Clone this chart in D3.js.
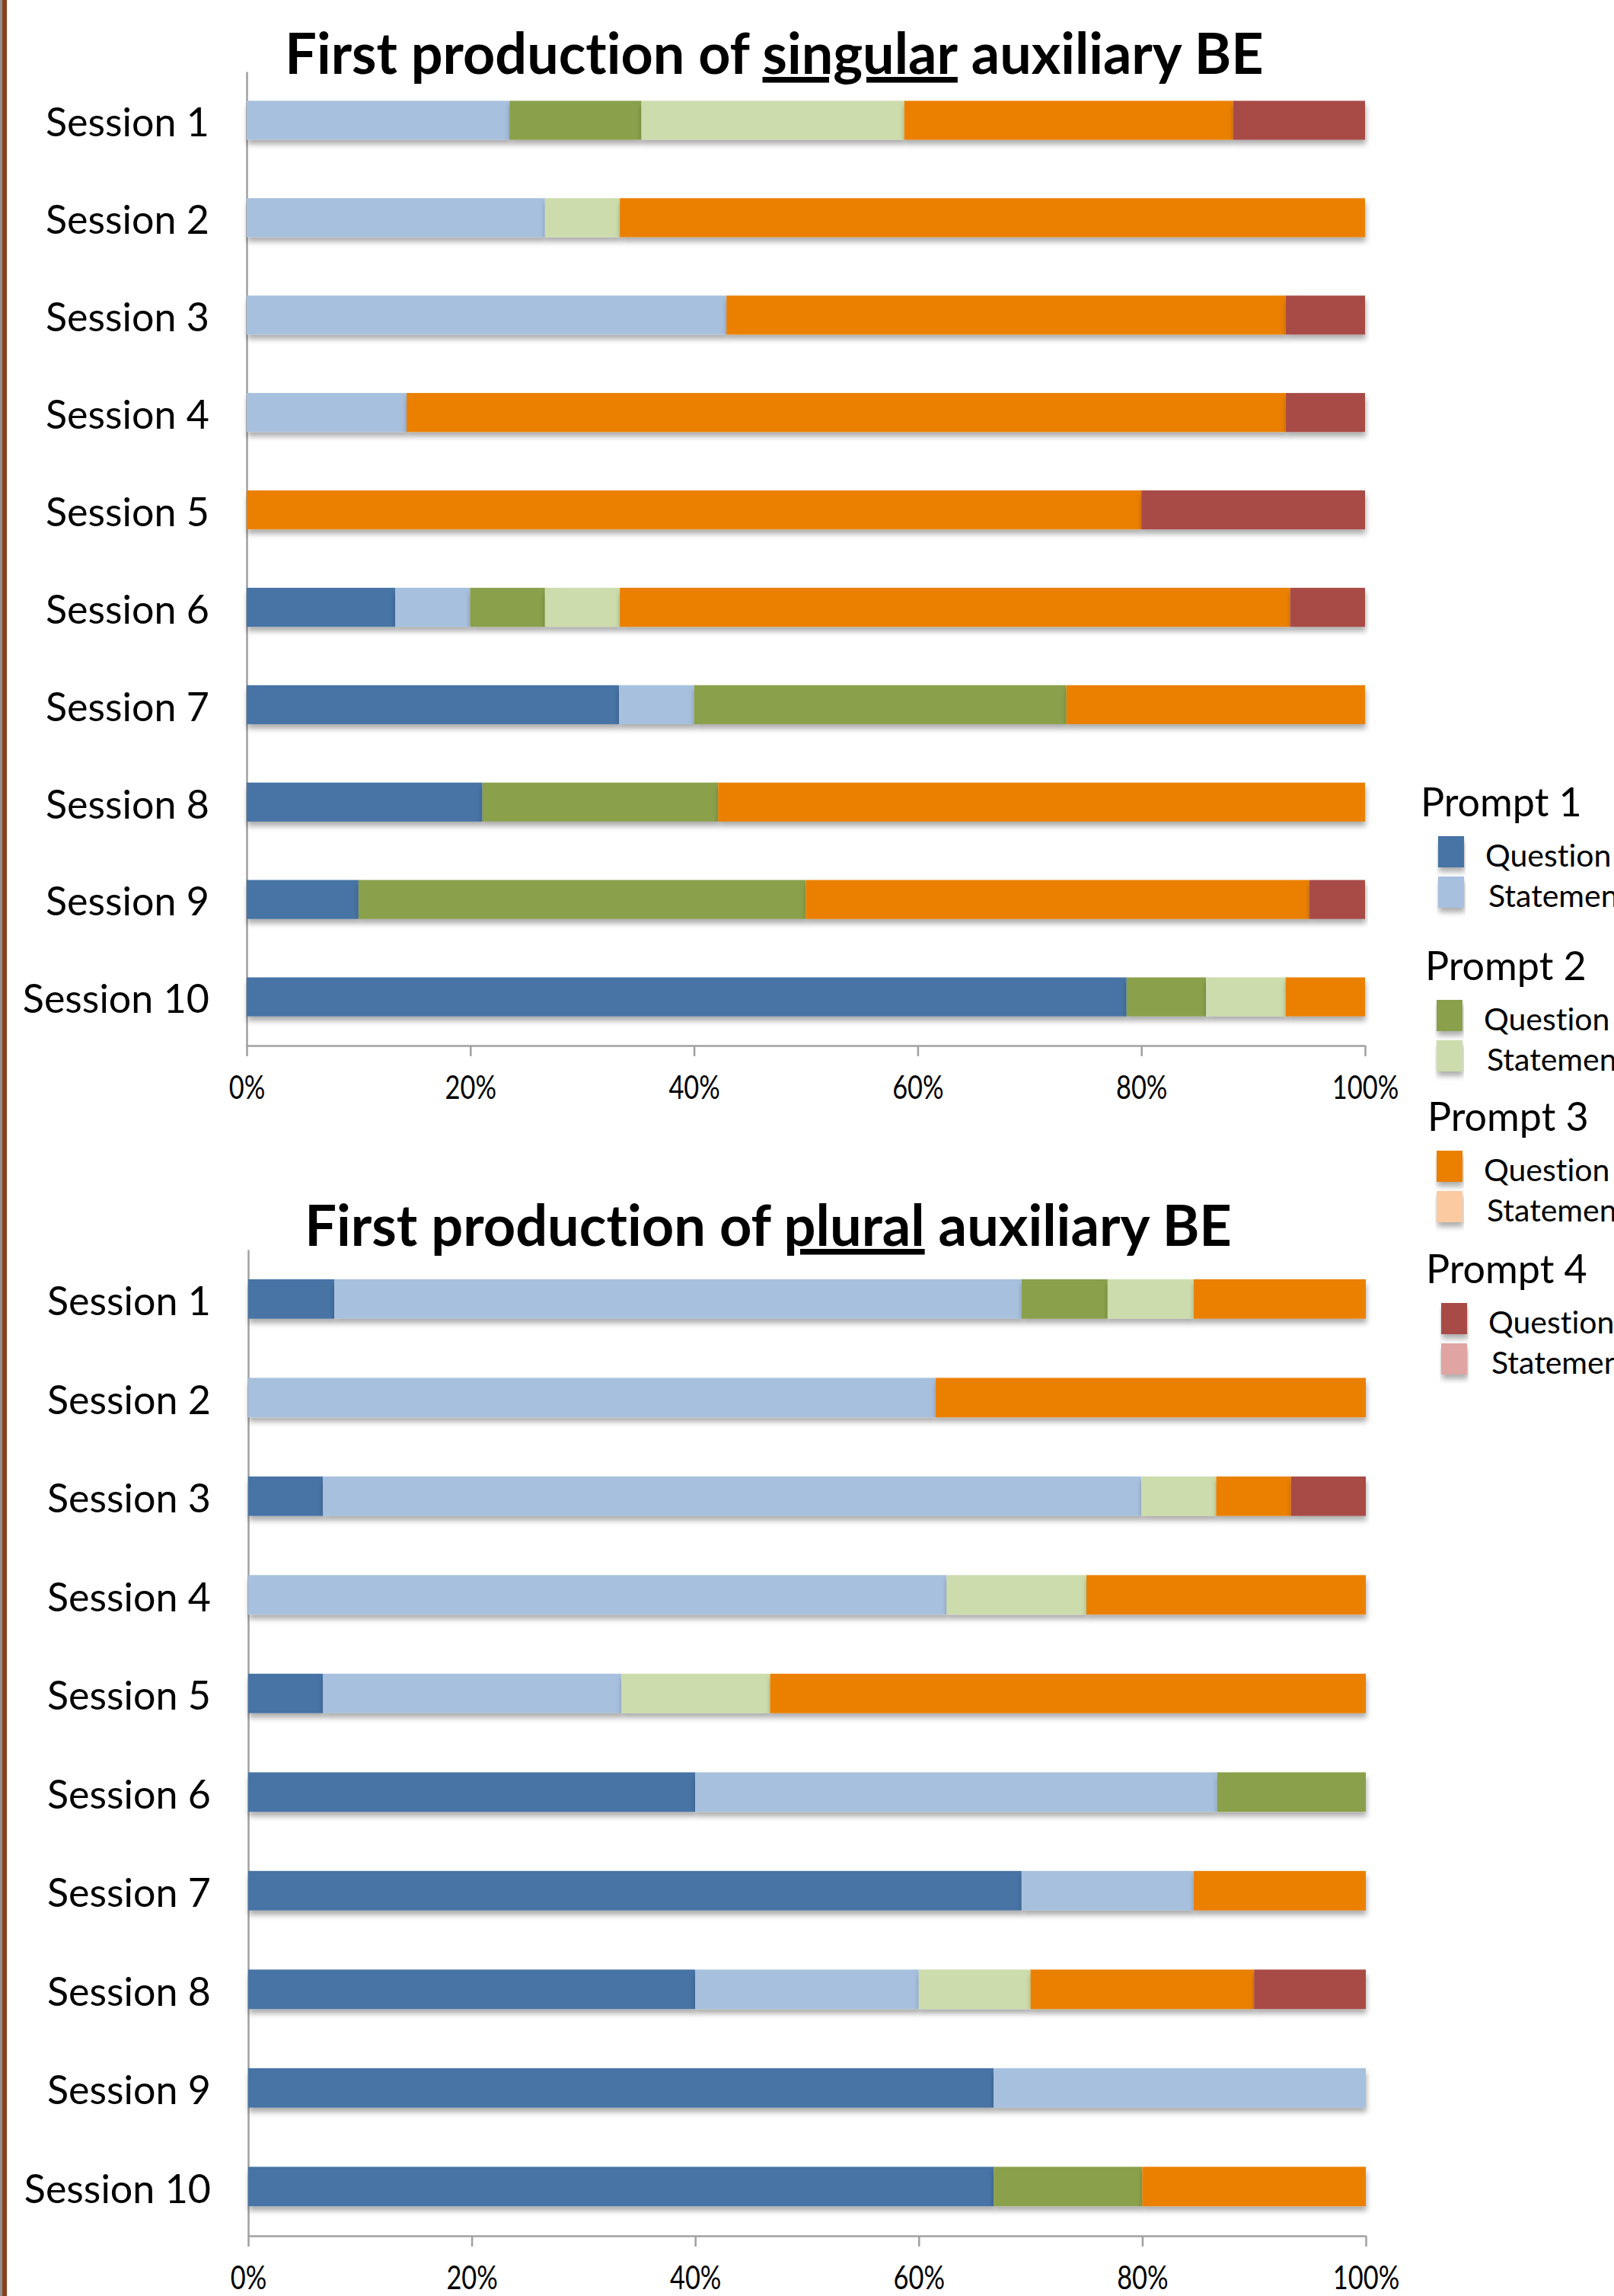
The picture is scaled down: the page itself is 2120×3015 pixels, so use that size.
<!DOCTYPE html>
<html>
<head>
<meta charset="utf-8">
<script src="https://cdn.jsdelivr.net/npm/d3@7"></script>
<style>
  html, body { margin: 0; padding: 0; background: #fff; overflow: hidden; }
  svg { display: block; }
  text { font-family: Lato, "Open Sans", sans-serif; fill: #000; font-variant-ligatures: none; }
</style>
</head>
<body>
<svg id="chart" width="2120" height="3015"></svg>
<script>
// Sessions shown on the vertical axis of both panels
const sessions = ["Session 1", "Session 2", "Session 3", "Session 4", "Session 5",
                  "Session 6", "Session 7", "Session 8", "Session 9", "Session 10"];

// Series: prompt number x response type
const seriesKeys = ["P1Q", "P1S", "P2Q", "P2S", "P3Q", "P3S", "P4Q", "P4S"];
const seriesColors = ["#4673a5", "#a7c0de", "#8aa04b", "#cddcac",
                      "#eb8005", "#fbcaa0", "#a84b47", "#e0a5a3"];
const legendGroups = ["Prompt 1", "Prompt 2", "Prompt 3", "Prompt 4"];
const legendItems = ["Question", "Statement"];
const tickValues = [0, 0.2, 0.4, 0.6, 0.8, 1];

// Share of first productions (%) — singular auxiliary BE
const singularP1Q = [0, 0, 0, 0, 0, 13.3, 33.3, 21.1, 10, 78.6];
const singularP1S = [23.5, 26.7, 42.9, 14.3, 0, 6.7, 6.7, 0, 0, 0];
const singularP2Q = [11.8, 0, 0, 0, 0, 6.7, 33.3, 21.1, 40, 7.1];
const singularP2S = [23.5, 6.7, 0, 0, 0, 6.7, 0, 0, 0, 7.1];
const singularP3Q = [29.4, 66.7, 50, 78.6, 80, 60, 26.7, 57.9, 45, 7.1];
const singularP3S = [0, 0, 0, 0, 0, 0, 0, 0, 0, 0];
const singularP4Q = [11.8, 0, 7.1, 7.1, 20, 6.7, 0, 0, 5, 0];
const singularP4S = [0, 0, 0, 0, 0, 0, 0, 0, 0, 0];

// Share of first productions (%) — plural auxiliary BE
const pluralP1Q = [7.7, 0, 6.7, 0, 6.7, 40, 69.2, 40, 66.7, 66.7];
const pluralP1S = [61.5, 61.5, 73.3, 62.5, 26.7, 46.7, 15.4, 20, 33.3, 0];
const pluralP2Q = [7.7, 0, 0, 0, 0, 13.3, 0, 0, 0, 13.3];
const pluralP2S = [7.7, 0, 6.7, 12.5, 13.3, 0, 0, 10, 0, 0];
const pluralP3Q = [15.4, 38.5, 6.7, 25, 53.3, 0, 15.4, 20, 0, 20];
const pluralP3S = [0, 0, 0, 0, 0, 0, 0, 0, 0, 0];
const pluralP4Q = [0, 0, 6.7, 0, 0, 0, 0, 10, 0, 0];
const pluralP4S = [0, 0, 0, 0, 0, 0, 0, 0, 0, 0];

const singularSeries = [singularP1Q, singularP1S, singularP2Q, singularP2S,
                        singularP3Q, singularP3S, singularP4Q, singularP4S];
const pluralSeries = [pluralP1Q, pluralP1S, pluralP2Q, pluralP2S,
                      pluralP3Q, pluralP3S, pluralP4Q, pluralP4S];

const svg = d3.select("#chart");
const color = d3.scaleOrdinal().domain(seriesKeys).range(seriesColors);

// soft drop shadow under bars and legend keys
const defs = svg.append("defs");
const shadow = defs.append("filter").attr("id", "barShadow")
  .attr("x", "-5%").attr("y", "-20%").attr("width", "110%").attr("height", "160%");
shadow.append("feDropShadow")
  .attr("dx", 1).attr("dy", 6).attr("stdDeviation", 3.5)
  .attr("flood-color", "#000").attr("flood-opacity", 0.32);

svg.append("rect").attr("width", 2120).attr("height", 3015).attr("fill", "#fff");

// slide edge on the left
svg.append("rect").attr("x", 0).attr("y", 0).attr("width", 3).attr("height", 3015).attr("fill", "#8e8e8e");
svg.append("rect").attr("x", 3).attr("y", 0).attr("width", 6).attr("height", 3015).attr("fill", "#8b401d");

const panels = [
  { title: ["First production of ", "singular", " auxiliary BE"], series: singularSeries,
    xRange: [324, 1793], yRange: [94, 1373], titleX: 1017, titleY: 97, titleW: 1284 },
  { title: ["First production of ", "plural", " auxiliary BE"], series: pluralSeries,
    xRange: [326, 1794], yRange: [1641, 2936], titleX: 1009, titleY: 1636, titleW: 1218 }
];

const axisColor = "#a0a0a0";

panels.forEach(p => {
  const rows = sessions.map((s, i) => {
    const r = { session: s };
    seriesKeys.forEach((k, j) => { r[k] = p.series[j][i]; });
    return r;
  });
  const stacked = d3.stack().keys(seriesKeys).offset(d3.stackOffsetExpand)(rows);

  const x = d3.scaleLinear().domain([0, 1]).range(p.xRange);
  const y = d3.scaleBand().domain(sessions).range(p.yRange)
    .paddingInner(0.6).paddingOuter(0.3);

  const g = svg.append("g");

  // horizontal axis
  const xAxis = g.append("g")
    .attr("transform", `translate(0,${p.yRange[1]})`)
    .call(d3.axisBottom(x).tickValues(tickValues).tickFormat(d3.format(".0%"))
      .tickSize(14).tickSizeOuter(0));
  xAxis.selectAll("path, line").attr("stroke", axisColor).attr("stroke-width", 2.5);
  xAxis.selectAll("text")
    .attr("y", 70).attr("dy", 0)
    .style("font-family", "Lato, sans-serif").style("font-size", "43px").attr("fill", "#000")
    .attr("transform", "scale(0.8,1)");

  // vertical axis with session names
  const yAxis = g.append("g")
    .attr("transform", `translate(${p.xRange[0]},0)`)
    .call(d3.axisLeft(y).tickSize(0).tickPadding(49).tickSizeOuter(0));
  yAxis.select("path").attr("stroke", axisColor).attr("stroke-width", 2.5);
  yAxis.selectAll("text")
    .attr("dy", "0.41em")
    .style("font-family", "Lato, sans-serif").style("font-size", "52px").attr("fill", "#000");

  // stacked bars
  g.append("g").selectAll("g").data(stacked).join("g")
    .attr("fill", d => color(d.key))
    .selectAll("rect")
    .data(d => d.filter(v => v[1] - v[0] > 0))
    .join("rect")
    .attr("x", d => x(d[0]))
    .attr("y", d => y(d.data.session))
    .attr("width", d => x(d[1]) - x(d[0]))
    .attr("height", y.bandwidth())
    .attr("filter", "url(#barShadow)");

  // title with the underlined keyword, compressed to its set width
  const t = g.append("text")
    .attr("text-anchor", "middle")
    .attr("xml:space", "preserve")
    .style("font-family", "Lato, sans-serif").style("font-weight", "700").style("font-size", "75px");
  p.title.forEach((part, i) => {
    t.append("tspan").text(part)
      .style("text-decoration", i === 1 ? "underline" : "none")
      .style("white-space", "pre");
  });
  const w = t.node().getComputedTextLength();
  const sx = p.titleW / w;
  t.attr("transform", `translate(${p.titleX},${p.titleY}) scale(${sx},1)`);
});

// legend
const legendBase = [1072, 1287, 1485, 1685];
const legendHeadX = [1866, 1872, 1875, 1873];
const legendKeyX = [1889, 1887, 1887, 1893];
const legend = svg.append("g");
legendGroups.forEach((name, gi) => {
  const by = legendBase[gi];
  legend.append("text")
    .attr("x", legendHeadX[gi]).attr("y", by)
    .style("font-size", "52px")
    .text(name);
  legendItems.forEach((item, ii) => {
    const key = seriesKeys[gi * 2 + ii];
    const top = by + 26 + ii * 53;
    legend.append("rect")
      .attr("x", legendKeyX[gi]).attr("y", top)
      .attr("width", 34).attr("height", 41)
      .attr("fill", color(key))
      .attr("filter", "url(#barShadow)");
    legend.append("text")
      .attr("x", legendKeyX[gi] + 62 + ii * 4).attr("y", top + 40)
      .style("font-size", "41px")
      .text(item);
  });
});
</script>
</body>
</html>
